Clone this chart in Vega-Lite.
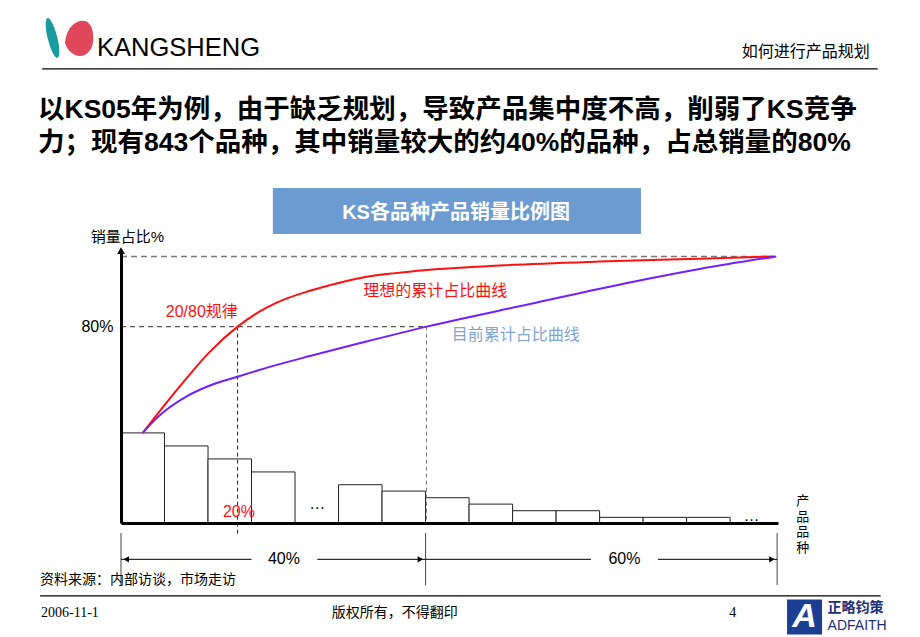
{
  "$schema": "https://vega.github.io/schema/vega-lite/v6.json",
  "width": 657,
  "height": 270,
  "autosize": {"type": "none"},
  "padding": {"left": 121, "top": 253, "right": 142, "bottom": 114},
  "background": "white",
  "config": {"view": {"stroke": null}, "font": "Liberation Sans, Noto Sans CJK SC"},
  "datasets": {
    "bars": [
      {"x": 0, "x2": 1, "y": 36.7}, {"x": 1, "x2": 2, "y": 31.4}, {"x": 2, "x2": 3, "y": 26.1}, {"x": 3, "x2": 4, "y": 20.8},
      {"x": 5, "x2": 6, "y": 15.6}, {"x": 6, "x2": 7, "y": 13.0}, {"x": 7, "x2": 8, "y": 10.3}, {"x": 8, "x2": 9, "y": 7.7},
      {"x": 9, "x2": 10, "y": 5.0}, {"x": 10, "x2": 11, "y": 5.0}, {"x": 11, "x2": 12, "y": 2.3}, {"x": 12, "x2": 13, "y": 2.3},
      {"x": 13, "x2": 14, "y": 2.3}
    ],
    "curves": [
      {"curve": "理想的累计占比曲线", "x": 0.5, "y": 36.7},
      {"curve": "理想的累计占比曲线", "x": 1.0, "y": 48.0},
      {"curve": "理想的累计占比曲线", "x": 1.5, "y": 58.8},
      {"curve": "理想的累计占比曲线", "x": 2.0, "y": 69.0},
      {"curve": "理想的累计占比曲线", "x": 2.68, "y": 80.0},
      {"curve": "理想的累计占比曲线", "x": 3.2, "y": 86.3},
      {"curve": "理想的累计占比曲线", "x": 3.58, "y": 89.8},
      {"curve": "理想的累计占比曲线", "x": 4.34, "y": 94.6},
      {"curve": "理想的累计占比曲线", "x": 5.0, "y": 97.8},
      {"curve": "理想的累计占比曲线", "x": 5.56, "y": 100.0},
      {"curve": "理想的累计占比曲线", "x": 6.3, "y": 101.8},
      {"curve": "理想的累计占比曲线", "x": 7.03, "y": 103.1},
      {"curve": "理想的累计占比曲线", "x": 8.71, "y": 104.9},
      {"curve": "理想的累计占比曲线", "x": 11.0, "y": 106.5},
      {"curve": "理想的累计占比曲线", "x": 13.3, "y": 107.7},
      {"curve": "理想的累计占比曲线", "x": 15.0, "y": 108.6},
      {"curve": "目前累计占比曲线", "x": 0.5, "y": 36.7},
      {"curve": "目前累计占比曲线", "x": 0.75, "y": 41.5},
      {"curve": "目前累计占比曲线", "x": 1.0, "y": 45.5},
      {"curve": "目前累计占比曲线", "x": 1.5, "y": 51.5},
      {"curve": "目前累计占比曲线", "x": 2.0, "y": 55.7},
      {"curve": "目前累计占比曲线", "x": 2.68, "y": 59.6},
      {"curve": "目前累计占比曲线", "x": 3.5, "y": 64.0},
      {"curve": "目前累计占比曲线", "x": 4.34, "y": 68.0},
      {"curve": "目前累计占比曲线", "x": 5.5, "y": 73.3},
      {"curve": "目前累计占比曲线", "x": 7.02, "y": 80.0},
      {"curve": "目前累计占比曲线", "x": 9.4, "y": 89.2},
      {"curve": "目前累计占比曲线", "x": 11.69, "y": 98.0},
      {"curve": "目前累计占比曲线", "x": 13.3, "y": 103.5},
      {"curve": "目前累计占比曲线", "x": 15.06, "y": 108.6}
    ],
    "refs": [
      {"kind": "box", "x": 3.49, "x2": 11.95, "y": 136.5, "y2": 117.7},
      {"kind": "hline", "x": -1.81, "x2": 17.39, "y": 185.0},
      {"kind": "hline", "x": -1.86, "x2": 17.46, "y": -29.7},
      {"kind": "top", "x": 0, "x2": 15.0, "y": 108.6},
      {"kind": "eighty", "x": 0, "x2": 7.02, "y": 80},
      {"kind": "v20", "x": 2.68, "y": 80, "y2": -5.6},
      {"kind": "v40", "x": 7.02, "y": 80, "y2": 0},
      {"kind": "dimv", "x": 0, "y": -4.1, "y2": -25.3},
      {"kind": "dimv", "x": 7.0, "y": -4.1, "y2": -25.3},
      {"kind": "dimv", "x": 15.08, "y": -4.1, "y2": -25.3},
      {"kind": "dimh", "x": 0, "x2": 3.0, "y": -14.8},
      {"kind": "dimh", "x": 4.51, "x2": 7.0, "y": -14.8},
      {"kind": "dimh", "x": 7.0, "x2": 10.8, "y": -14.8},
      {"kind": "dimh", "x": 12.34, "x2": 15.08, "y": -14.8}
    ],
    "marks": [
      {"kind": "left", "x": 0.12, "y": -14.8},
      {"kind": "right", "x": 6.88, "y": -14.8},
      {"kind": "right", "x": 14.96, "y": -14.8},
      {"kind": "up", "x": 0, "y": 111.0}
    ],
    "notes": [
      {"kind": "title", "x": -1.907, "y": 168.3, "text": "以KS05年为例，由于缺乏规划，导致产品集中度不高，削弱了KS竞争"},
      {"kind": "title", "x": -1.907, "y": 154.8, "text": "力；现有843个品种，其中销量较大的约40%的品种，占总销量的80%"},
      {"kind": "brand", "x": -0.551, "y": 193.7, "text": "KANGSHENG"},
      {"kind": "topic", "x": 17.21, "y": 191.9, "text": "如何进行产品规划"},
      {"kind": "chartTitle", "x": 7.70, "y": 126.4, "text": "KS各品种产品销量比例图"},
      {"kind": "red", "x": 1.03, "y": 86.1, "text": "20/80规律"},
      {"kind": "red", "x": 5.57, "y": 94.5, "text": "理想的累计占比曲线"},
      {"kind": "blue", "x": 7.60, "y": 76.6, "text": "目前累计占比曲线"},
      {"kind": "red20", "x": 2.71, "y": 4.6, "text": "20%"},
      {"kind": "dots", "x": 4.51, "y": 5.6, "text": "…"},
      {"kind": "dots", "x": 14.49, "y": 1.0, "text": "…"},
      {"kind": "dim", "x": 3.745, "y": -14.8, "text": "40%"},
      {"kind": "dim", "x": 11.57, "y": -14.8, "text": "60%"},
      {"kind": "xTitle", "x": 15.67, "y": 8.96, "text": "产"},
      {"kind": "xTitle", "x": 15.67, "y": 2.44, "text": "品"},
      {"kind": "xTitle", "x": 15.67, "y": -3.67, "text": "品"},
      {"kind": "xTitle", "x": 15.67, "y": -10.2, "text": "种"},
      {"kind": "source", "x": -1.861, "y": -23.2, "text": "资料来源：内部访谈，市场走访"},
      {"kind": "footL", "x": -1.838, "y": -36.7, "text": "2006-11-1"},
      {"kind": "footC", "x": 6.29, "y": -36.7, "text": "版权所有，不得翻印"},
      {"kind": "footC", "x": 14.06, "y": -36.7, "text": "4"},
      {"kind": "logoCn", "x": 16.24, "y": -34.6, "text": "正略钧策"},
      {"kind": "logoEn", "x": 16.24, "y": -42.0, "text": "ADFAITH"},
      {"kind": "logoA", "x": 15.71, "y": -38.3, "text": "A"}
    ],
    "logos": [
      {"kind": "teal", "x": -1.574, "y": 197.6},
      {"kind": "pink", "x": -0.977, "y": 197.6},
      {"kind": "navy", "x": 15.71, "y": -38.3}
    ]
  },
  "encoding": {
    "x": {"field": "x", "type": "quantitative", "scale": {"domain": [0, 15.1], "nice": false, "zero": false},
      "axis": {"domain": true, "domainColor": "black", "domainWidth": 3, "ticks": false, "labels": false, "grid": false, "title": null, "zindex": 1}},
    "y": {"field": "y", "type": "quantitative", "scale": {"domain": [0, 110], "nice": false, "zero": false},
      "axis": {"domainColor": "black", "domainWidth": 3, "ticks": false, "grid": false, "values": [80], "labelExpr": "'80%'",
        "labelFontSize": 16, "labelColor": "black", "labelPadding": 8, "labelFont": "Liberation Sans",
        "title": "销量占比%", "titleAngle": 0, "titleAlign": "center", "titleBaseline": "middle", "titleX": 6, "titleY": -17,
        "titleFontSize": 15, "titleFontWeight": "normal", "titleColor": "black", "titleFont": "Liberation Sans, Noto Sans CJK SC", "zindex": 1}}
  },
  "layer": [
    {"data": {"name": "refs"}, "transform": [{"filter": "datum.kind == 'box'"}],
      "mark": {"type": "rect", "fill": "#6b9bd0"},
      "encoding": {"x2": {"field": "x2"}, "y2": {"field": "y2"}}},
    {"data": {"name": "refs"}, "transform": [{"filter": "datum.kind == 'hline'"}],
      "mark": {"type": "rule", "stroke": "black", "strokeWidth": 1.2},
      "encoding": {"x2": {"field": "x2"}}},
    {"data": {"name": "bars"},
      "mark": {"type": "rect", "fill": "white", "stroke": "#222", "strokeWidth": 1},
      "encoding": {"x2": {"field": "x2"}, "y2": {"datum": 0}}},
    {"data": {"name": "refs"}, "transform": [{"filter": "datum.kind == 'top'"}],
      "mark": {"type": "rule", "stroke": "#777", "strokeWidth": 1.5, "strokeDash": [6, 4]},
      "encoding": {"x2": {"field": "x2"}}},
    {"data": {"name": "refs"}, "transform": [{"filter": "datum.kind == 'eighty'"}],
      "mark": {"type": "rule", "stroke": "#555", "strokeWidth": 1.2, "strokeDash": [5, 4]},
      "encoding": {"x2": {"field": "x2"}}},
    {"data": {"name": "refs"}, "transform": [{"filter": "datum.kind == 'v20'"}],
      "mark": {"type": "rule", "stroke": "#222", "strokeWidth": 1, "strokeDash": [4, 3]},
      "encoding": {"y2": {"field": "y2"}}},
    {"data": {"name": "refs"}, "transform": [{"filter": "datum.kind == 'v40'"}],
      "mark": {"type": "rule", "stroke": "#777", "strokeWidth": 1, "strokeDash": [4, 3]},
      "encoding": {"y2": {"field": "y2"}}},
    {"data": {"name": "refs"}, "transform": [{"filter": "datum.kind == 'dimv'"}],
      "mark": {"type": "rule", "stroke": "#444", "strokeWidth": 1},
      "encoding": {"y2": {"field": "y2"}}},
    {"data": {"name": "refs"}, "transform": [{"filter": "datum.kind == 'dimh'"}],
      "mark": {"type": "rule", "stroke": "black", "strokeWidth": 1},
      "encoding": {"x2": {"field": "x2"}}},
    {"data": {"name": "marks"}, "transform": [{"filter": "datum.kind == 'left'"}],
      "mark": {"type": "point", "shape": "triangle-left", "filled": true, "color": "black", "size": 40, "opacity": 1}},
    {"data": {"name": "marks"}, "transform": [{"filter": "datum.kind == 'right'"}],
      "mark": {"type": "point", "shape": "triangle-right", "filled": true, "color": "black", "size": 40, "opacity": 1}},
    {"data": {"name": "marks"}, "transform": [{"filter": "datum.kind == 'up'"}],
      "mark": {"type": "point", "shape": "triangle-up", "filled": true, "color": "black", "size": 60, "opacity": 1}},
    {"data": {"name": "curves"},
      "mark": {"type": "line", "strokeWidth": 2, "interpolate": "monotone"},
      "encoding": {"color": {"field": "curve", "type": "nominal", "scale": {"domain": ["理想的累计占比曲线", "目前累计占比曲线"], "range": ["#ff1010", "#7020ff"]}, "legend": null}}},
    {"data": {"name": "logos"}, "transform": [{"filter": "datum.kind == 'teal'"}],
      "mark": {"type": "point", "shape": "M -0.249 -1 A 0.24 1.03 -14 0 1 0.249 1 A 0.24 1.03 -14 0 1 -0.249 -1 Z", "filled": true, "color": "#1b9aa0", "size": 1600, "opacity": 1}},
    {"data": {"name": "logos"}, "transform": [{"filter": "datum.kind == 'pink'"}],
      "mark": {"type": "point", "shape": "M -0.75 0.28 C -0.7 -0.3 -0.4 -0.9 0.18 -0.96 C 0.6 -1 0.85 -0.6 0.82 0.11 C 0.8 0.6 0.5 1 0.08 1 C -0.3 1 -0.6 0.7 -0.75 0.28 Z", "filled": true, "color": "#e0475a", "size": 1296, "opacity": 1}},
    {"data": {"name": "logos"}, "transform": [{"filter": "datum.kind == 'navy'"}],
      "mark": {"type": "point", "shape": "square", "filled": true, "color": "#1c3f94", "size": 1225, "opacity": 1}},
    {"data": {"name": "notes"}, "transform": [{"filter": "datum.kind == 'title'"}],
      "mark": {"type": "text", "align": "left", "baseline": "middle", "fontSize": 26.5, "fontWeight": "bold", "color": "black", "font": "Liberation Sans, Noto Sans CJK SC"},
      "encoding": {"text": {"field": "text"}}},
    {"data": {"name": "notes"}, "transform": [{"filter": "datum.kind == 'brand'"}],
      "mark": {"type": "text", "align": "left", "baseline": "middle", "fontSize": 25.5, "color": "black", "font": "Liberation Sans"},
      "encoding": {"text": {"field": "text"}}},
    {"data": {"name": "notes"}, "transform": [{"filter": "datum.kind == 'topic'"}],
      "mark": {"type": "text", "align": "right", "baseline": "middle", "fontSize": 16, "color": "black", "font": "Noto Sans CJK SC"},
      "encoding": {"text": {"field": "text"}}},
    {"data": {"name": "notes"}, "transform": [{"filter": "datum.kind == 'chartTitle'"}],
      "mark": {"type": "text", "align": "center", "baseline": "middle", "fontSize": 20, "fontWeight": "bold", "color": "white", "font": "Liberation Sans, Noto Sans CJK SC"},
      "encoding": {"text": {"field": "text"}}},
    {"data": {"name": "notes"}, "transform": [{"filter": "datum.kind == 'red'"}],
      "mark": {"type": "text", "align": "left", "baseline": "middle", "fontSize": 16, "color": "#ff1010", "font": "Liberation Sans, Noto Sans CJK SC"},
      "encoding": {"text": {"field": "text"}}},
    {"data": {"name": "notes"}, "transform": [{"filter": "datum.kind == 'blue'"}],
      "mark": {"type": "text", "align": "left", "baseline": "middle", "fontSize": 16, "color": "#7fa4d6", "font": "Liberation Sans, Noto Sans CJK SC"},
      "encoding": {"text": {"field": "text"}}},
    {"data": {"name": "notes"}, "transform": [{"filter": "datum.kind == 'red20'"}],
      "mark": {"type": "text", "align": "center", "baseline": "middle", "fontSize": 16, "color": "#ff1010", "font": "Liberation Sans"},
      "encoding": {"text": {"field": "text"}}},
    {"data": {"name": "notes"}, "transform": [{"filter": "datum.kind == 'dots'"}],
      "mark": {"type": "text", "align": "center", "baseline": "alphabetic", "fontSize": 16, "color": "black", "font": "Liberation Sans"},
      "encoding": {"text": {"field": "text"}}},
    {"data": {"name": "notes"}, "transform": [{"filter": "datum.kind == 'dim'"}],
      "mark": {"type": "text", "align": "center", "baseline": "middle", "fontSize": 16, "color": "black", "font": "Liberation Sans"},
      "encoding": {"text": {"field": "text"}}},
    {"data": {"name": "notes"}, "transform": [{"filter": "datum.kind == 'xTitle'"}],
      "mark": {"type": "text", "align": "center", "baseline": "middle", "fontSize": 13, "color": "black", "font": "Liberation Sans, Noto Sans CJK SC"},
      "encoding": {"text": {"field": "text"}}},
    {"data": {"name": "notes"}, "transform": [{"filter": "datum.kind == 'source'"}],
      "mark": {"type": "text", "align": "left", "baseline": "middle", "fontSize": 14, "color": "black", "font": "Noto Sans CJK SC"},
      "encoding": {"text": {"field": "text"}}},
    {"data": {"name": "notes"}, "transform": [{"filter": "datum.kind == 'footL'"}],
      "mark": {"type": "text", "align": "left", "baseline": "middle", "fontSize": 14, "color": "black", "font": "Liberation Serif"},
      "encoding": {"text": {"field": "text"}}},
    {"data": {"name": "notes"}, "transform": [{"filter": "datum.kind == 'footC'"}],
      "mark": {"type": "text", "align": "center", "baseline": "middle", "fontSize": 14, "color": "black", "font": "Liberation Serif, Noto Sans CJK SC"},
      "encoding": {"text": {"field": "text"}}},
    {"data": {"name": "notes"}, "transform": [{"filter": "datum.kind == 'logoCn'"}],
      "mark": {"type": "text", "align": "left", "baseline": "middle", "fontSize": 14, "fontWeight": "bold", "color": "#1c2f7a", "font": "Noto Sans CJK SC"},
      "encoding": {"text": {"field": "text"}}},
    {"data": {"name": "notes"}, "transform": [{"filter": "datum.kind == 'logoEn'"}],
      "mark": {"type": "text", "align": "left", "baseline": "middle", "fontSize": 14, "color": "#1c2f7a", "font": "Liberation Sans"},
      "encoding": {"text": {"field": "text"}}},
    {"data": {"name": "notes"}, "transform": [{"filter": "datum.kind == 'logoA'"}],
      "mark": {"type": "text", "align": "center", "baseline": "middle", "fontSize": 34, "fontWeight": "bold", "fontStyle": "italic", "color": "white", "font": "Liberation Sans"},
      "encoding": {"text": {"field": "text"}}}
  ]
}
